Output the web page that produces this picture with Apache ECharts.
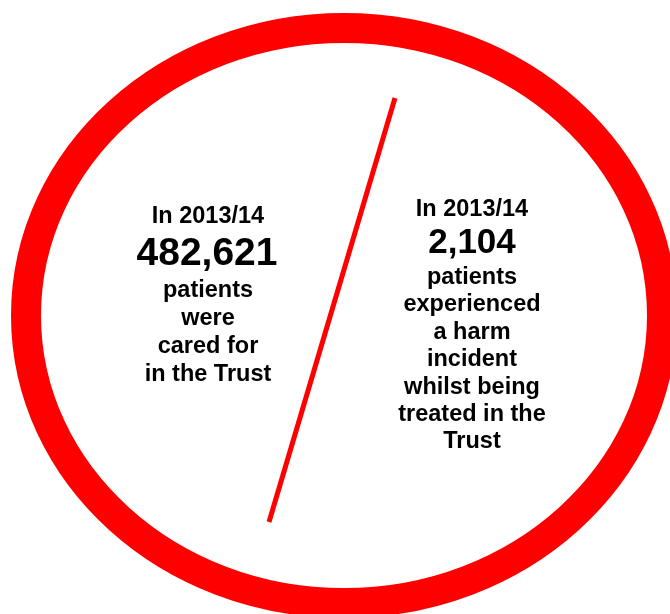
<!DOCTYPE html>
<html>
<head>
<meta charset="utf-8">
<script src="https://cdn.jsdelivr.net/npm/echarts@6/dist/echarts.min.js"></script>
<style>html,body{margin:0;padding:0;background:#fff}#c{width:670px;height:614px}</style>
</head>
<body>
<div id="c"></div>
<script>
var periods = ['In 2013/14', 'In 2013/14'];
var values = [482621, 2104];
var leftLines = ['patients', 'were', 'cared for', 'in the Trust'];
var rightLines = ['patients', 'experienced', 'a harm', 'incident', 'whilst being', 'treated in the', 'Trust'];

function fmt(v){ return v.toLocaleString('en-GB'); }

var chart = echarts.init(document.getElementById('c'), null, {renderer:'canvas'});
var FONT = '"Liberation Sans", Arial, sans-serif';
var els = [];
els.push({type:'ellipse', shape:{cx:344, cy:315.5, rx:318, ry:287.5},
  style:{fill:null, stroke:'#ff0000', lineWidth:30}});
els.push({type:'line', shape:{x1:395, y1:98, x2:269, y2:522},
  style:{stroke:'#ff0000', lineWidth:5}});
function txt(t, x, y, size){
  els.push({type:'text', x:x, y:y, style:{text:t, font:'bold '+size+'px '+FONT,
    fill:'#000', align:'center', verticalAlign:'middle'}});
}
// left block
txt(periods[0], 208, 217, 23.5);
txt(fmt(values[0]), 207, 254, 39);
leftLines.forEach(function(l,i){ txt(l, 208, 291 + i*28, 23.5); });
// right block
txt(periods[1], 472, 210, 23.5);
txt(fmt(values[1]), 472, 243, 35);
rightLines.forEach(function(l,i){ txt(l, 472, 277.5 + i*27.4, 23.5); });

chart.setOption({animation:false, graphic:{elements:els}});
</script>
</body>
</html>
